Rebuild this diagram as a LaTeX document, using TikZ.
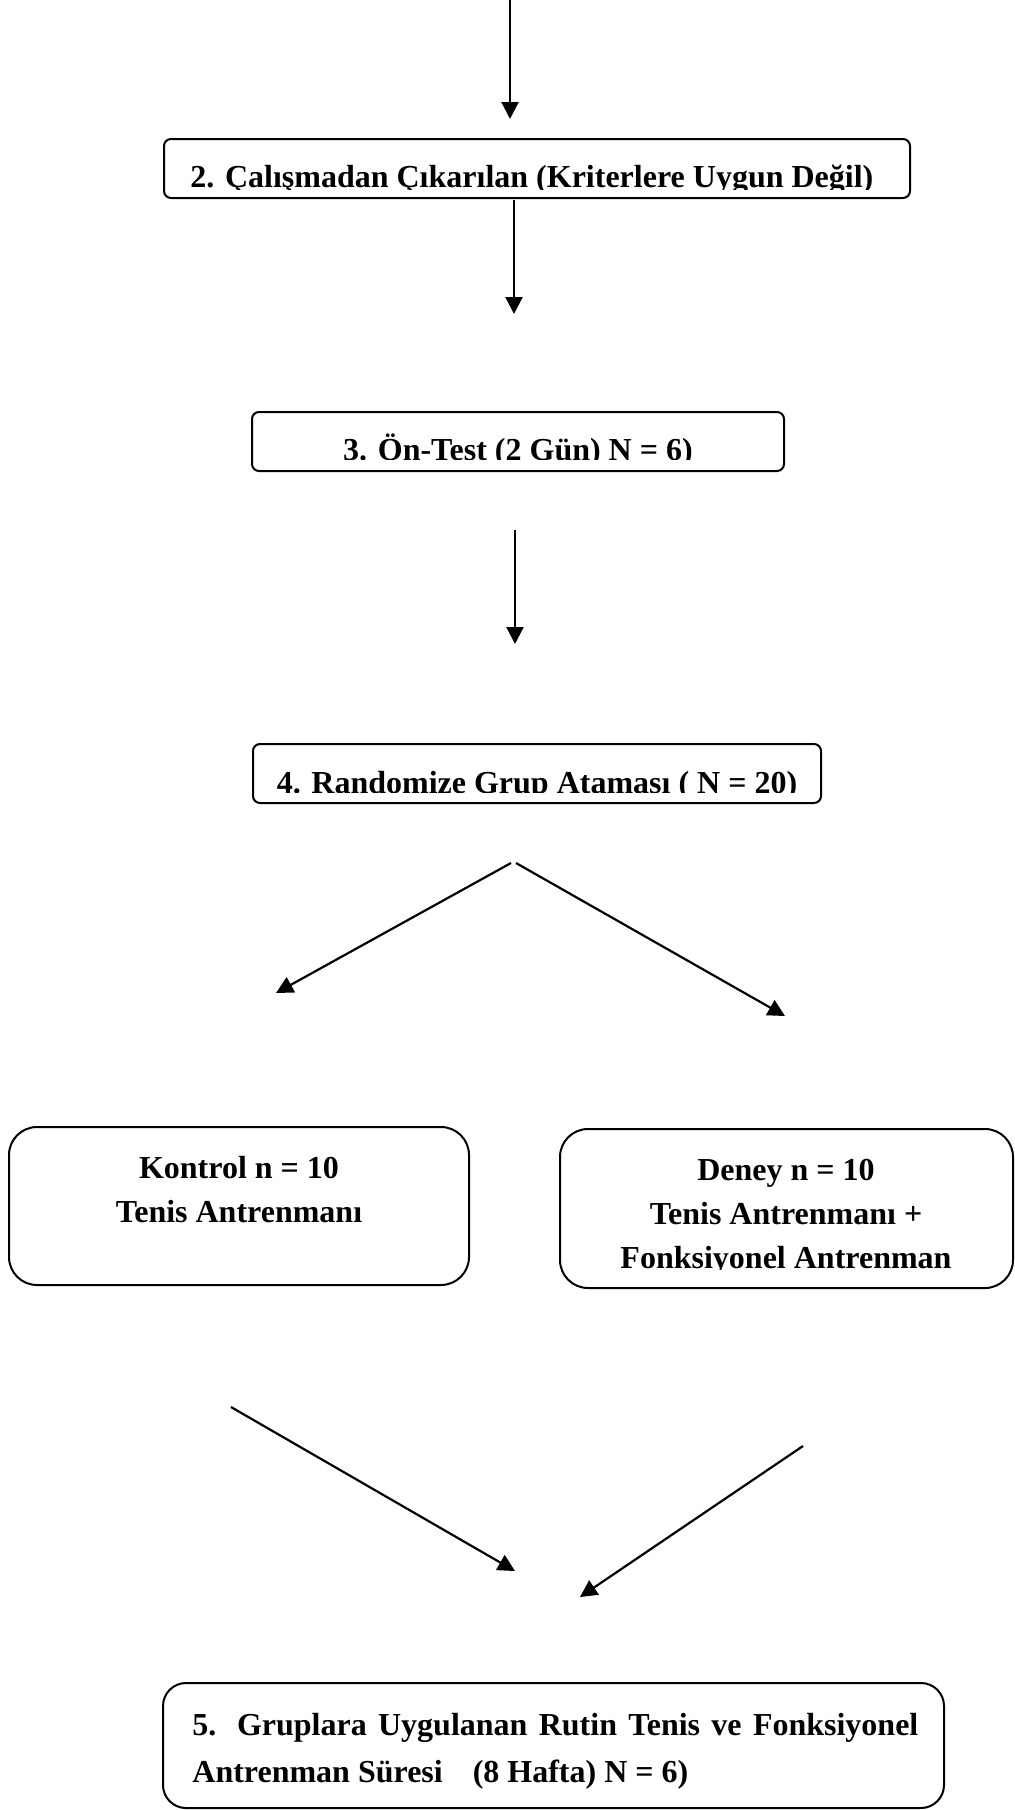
\documentclass[tikz,border=0pt]{standalone}
\usepackage{fontspec}
\setmainfont{Liberation Serif}
\usetikzlibrary{arrows.meta}
\begin{document}
\begin{tikzpicture}[x=0.5pt,y=-0.5pt,
  box/.style={draw=black, line width=1pt, rounded corners=3.5pt, inner sep=0pt},
  bigbox/.style={draw=black, line width=1pt, rounded corners=14pt, inner sep=0pt},
  txt/.style={inner sep=0pt, font=\fontsize{16pt}{22pt}\selectfont\bfseries},
  arr/.style={line width=1.1pt, -{Triangle[length=8.5pt,width=8.5pt]}}]
\useasboundingbox (0,0) rectangle (1014,1810);

% boxes
\node[box, minimum width=373pt, minimum height=29.5pt] (b2) at (537,168.5) {};
\node[box, minimum width=266pt, minimum height=29.5pt] (b3) at (518,441.5) {};
\node[box, minimum width=284pt, minimum height=29.5pt] (b4) at (537,773.5) {};
\node[bigbox, minimum width=230pt, minimum height=79pt] (bk) at (239,1206) {};
\node[bigbox, minimum width=226.5pt, minimum height=79.5pt] (bd) at (786.5,1208.5) {};
\node[box, rounded corners=11.5pt, minimum width=390.5pt, minimum height=62.5pt] (b5) at (553.5,1745.5) {};

% texts (clipped like the reference)
\begin{scope}
\clip (166,141) rectangle (908,189);
\node[txt, anchor=base west] (t2) at (190,187) {2. Çalışmadan Çıkarılan (Kriterlere Uygun Değil)};
\end{scope}
\begin{scope}
\clip (254,414) rectangle (782,459);
\node[txt, anchor=base] (t3) at (518,460) {3. Ön-Test (2 Gün) N = 6)};
\end{scope}
\begin{scope}
\clip (255,746) rectangle (819,792);
\node[txt, anchor=base] (t4) at (537,793) {4. Randomize Grup Ataması ( N = 20)};
\end{scope}

\node[txt, anchor=base] (tk1) at (239,1178) {Kontrol n = 10};
\node[txt, anchor=base] (tk2) at (239,1222) {Tenis Antrenmanı};

\node[txt, anchor=base] (td1) at (786,1180) {Deney n = 10};
\node[txt, anchor=base] (td2) at (786,1224) {Tenis Antrenmanı +};
\begin{scope}
\clip (562,1240) rectangle (1010,1269);
\node[txt, anchor=base] (td3) at (786,1268) {Fonksiyonel Antrenman};
\end{scope}

\node[txt, anchor=base west] (t5a) at (192,1735) {\makebox[363pt][s]{5. Gruplara Uygulanan Rutin Tenis ve Fonksiyonel}};
\node[txt, anchor=base west] (t5b) at (192,1782) {Antrenman Süresi\hspace{11pt} (8 Hafta) N = 6)};

% arrow end points
\coordinate (a1s) at (510,0);     \coordinate (a1e) at (510,119);
\coordinate (a2s) at (514,200);   \coordinate (a2e) at (514,314);
\coordinate (a3s) at (515,530);   \coordinate (a3e) at (515,644);
\coordinate (a4ls) at (511,863); \coordinate (a4le) at (276,993);
\coordinate (a4rs) at (516,863); \coordinate (a4re) at (785,1016);
\coordinate (a5ls) at (231,1407); \coordinate (a5le) at (515,1571);
\coordinate (a5rs) at (803,1446); \coordinate (a5re) at (580,1597);

\draw[arr] (a1s) -- (a1e);
\draw[arr] (a2s) -- (a2e);
\draw[arr] (a3s) -- (a3e);
\draw[arr] (a4ls) -- (a4le);
\draw[arr] (a4rs) -- (a4re);
\draw[arr] (a5ls) -- (a5le);
\draw[arr] (a5rs) -- (a5re);
\end{tikzpicture}
\end{document}
